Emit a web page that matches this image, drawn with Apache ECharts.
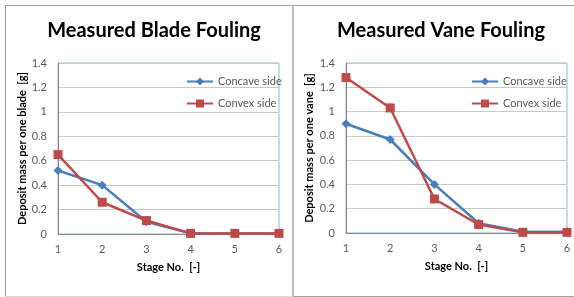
<!DOCTYPE html>
<html><head><meta charset="utf-8">
<script src="https://cdn.jsdelivr.net/npm/echarts@6/dist/echarts.min.js"></script>
<style>html,body{margin:0;padding:0;background:#fff}#c{width:574px;height:297px}</style>
</head><body><div id="c"></div>
<script>
const stages = [1, 2, 3, 4, 5, 6];
const yTicks = [0, 0.2, 0.4, 0.6, 0.8, 1, 1.2, 1.4];
const titles = ['Measured Blade Fouling', 'Measured Vane Fouling'];
const yNames = ['Deposit mass per one blade  [g]', 'Deposit mass per one vane  [g]'];
const xName = 'Stage No.  [-]';
const seriesNames = ['Concave side', 'Convex side'];
const bladeConcave = [0.52, 0.40, 0.10, 0.005, 0.005, 0.005];
const bladeConvex = [0.65, 0.26, 0.11, 0.005, 0.005, 0.005];
const vaneConcave = [0.90, 0.77, 0.40, 0.08, 0.01, 0.01];
const vaneConvex = [1.28, 1.03, 0.28, 0.07, 0.005, 0.005];

const FONT = 'Lato';
const BLUE = '#4A7EBB', RED = '#BE4B48';
const chart = echarts.init(document.getElementById('c'), null, {renderer: 'canvas'});
const grids = [{left: 58, top: 63, width: 221, height: 171}, {left: 346, top: 63, width: 221, height: 170}];
const pair = (a, b) => [a, b].map(arr => stages.map((s, i) => [s, arr[i]]));
const data = [pair(bladeConcave, bladeConvex), pair(vaneConcave, vaneConvex)];
const opt = {
  animation: false,
  textStyle: {fontFamily: FONT},
  title: titles.map((t, i) => ({text: t, left: i === 0 ? 149 : 436, top: 16, textAlign: 'center',
    textStyle: {fontFamily: FONT, fontWeight: 'bold', fontSize: 20, color: '#000'}})),
  grid: grids.map(g => Object.assign({show: true, borderColor: '#95B3D7', borderWidth: 1, backgroundColor: 'transparent'}, g)),
  xAxis: [0, 1].map(i => ({type: 'value', gridIndex: i, min: 1, max: 6, interval: 1,
    name: xName, nameLocation: 'middle', nameGap: 28,
    nameTextStyle: {fontFamily: FONT, fontWeight: 'bold', fontSize: 11, color: '#000'},
    axisLine: {lineStyle: {color: '#868686'}}, axisTick: {show: false},
    axisLabel: {color: '#595959', fontSize: 11, margin: 10},
    splitLine: {show: false}})),
  yAxis: [0, 1].map(i => ({type: 'value', gridIndex: i, min: yTicks[0], max: yTicks[yTicks.length - 1], interval: 0.2,
    name: yNames[i], nameLocation: 'middle', nameGap: i === 0 ? 30 : 31, nameRotate: 90,
    nameTextStyle: {fontFamily: FONT, fontWeight: 'bold', fontSize: 11, color: '#000'},
    axisLine: {show: true, lineStyle: {color: '#868686'}}, axisTick: {show: false},
    axisLabel: {color: '#595959', fontSize: 11, margin: 11},
    splitLine: {lineStyle: {color: '#C8C8C8'}}})),
  legend: [0, 1].map(i => ({data: seriesNames, orient: 'vertical', left: i === 0 ? 181 : 466, top: 71,
    itemWidth: 26, itemHeight: 10, itemGap: 11,
    textStyle: {fontFamily: FONT, fontSize: 11, color: '#595959'}})),
  series: []
};
[0, 1].forEach(i => {
  opt.series.push({name: seriesNames[0], type: 'line', xAxisIndex: i, yAxisIndex: i, data: data[i][0],
    symbol: 'diamond', symbolSize: 9, lineStyle: {color: BLUE, width: 2.5}, itemStyle: {color: BLUE}, z: 2});
  opt.series.push({name: seriesNames[1], type: 'line', xAxisIndex: i, yAxisIndex: i, data: data[i][1],
    symbol: 'rect', symbolSize: 9, lineStyle: {color: RED, width: 2.5}, itemStyle: {color: RED}, z: 3});
});
opt.graphic = [
  {type: 'line', shape: {x1: 5, y1: 5.5, x2: 574, y2: 5.5}, style: {stroke: '#A0A0A0', lineWidth: 1}},
  {type: 'line', shape: {x1: 5.5, y1: 5, x2: 5.5, y2: 297}, style: {stroke: '#A0A0A0', lineWidth: 1}},
  {type: 'line', shape: {x1: 293, y1: 5, x2: 293, y2: 297}, style: {stroke: '#BEBEBE', lineWidth: 2}},
  {type: 'line', shape: {x1: 5, y1: 296.5, x2: 293, y2: 296.5}, style: {stroke: '#D9D9D9', lineWidth: 1}},
  {type: 'line', shape: {x1: 293, y1: 296.5, x2: 574, y2: 296.5}, style: {stroke: '#A0A0A0', lineWidth: 1}}
];
chart.setOption(opt);
</script></body></html>
